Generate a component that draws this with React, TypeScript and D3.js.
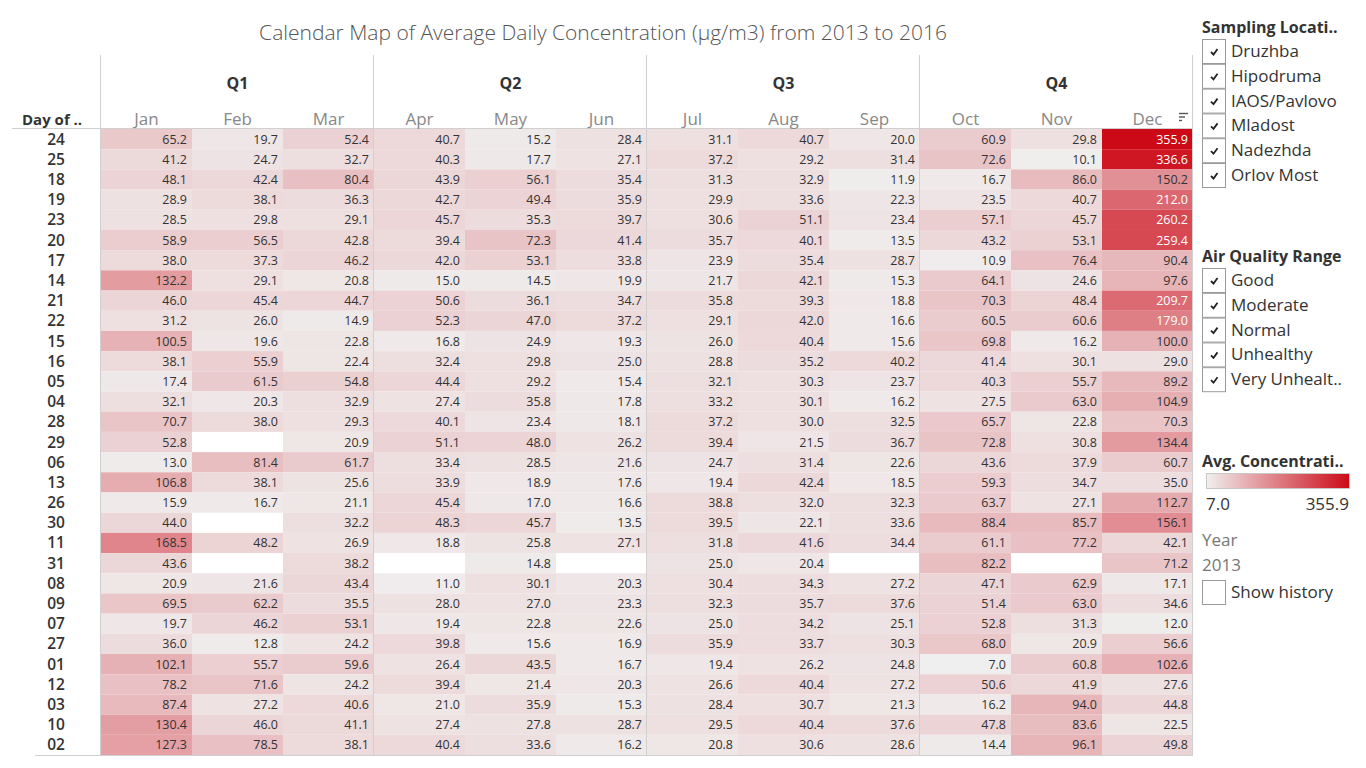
import React from "react";
import * as d3 from "d3";

const days = ["24","25","18","19","23","20","17","14","21","22","15","16","05","04","28","29","06","13","26","30","11","31","08","09","07","27","01","12","03","10","02"];
const months = ["Jan","Feb","Mar","Apr","May","Jun","Jul","Aug","Sep","Oct","Nov","Dec"];
const quarters = ["Q1","Q2","Q3","Q4"];
const N = null;
const values: (number | null)[][] = [
  [65.2, 19.7, 52.4, 40.7, 15.2, 28.4, 31.1, 40.7, 20.0, 60.9, 29.8, 355.9],
  [41.2, 24.7, 32.7, 40.3, 17.7, 27.1, 37.2, 29.2, 31.4, 72.6, 10.1, 336.6],
  [48.1, 42.4, 80.4, 43.9, 56.1, 35.4, 31.3, 32.9, 11.9, 16.7, 86.0, 150.2],
  [28.9, 38.1, 36.3, 42.7, 49.4, 35.9, 29.9, 33.6, 22.3, 23.5, 40.7, 212.0],
  [28.5, 29.8, 29.1, 45.7, 35.3, 39.7, 30.6, 51.1, 23.4, 57.1, 45.7, 260.2],
  [58.9, 56.5, 42.8, 39.4, 72.3, 41.4, 35.7, 40.1, 13.5, 43.2, 53.1, 259.4],
  [38.0, 37.3, 46.2, 42.0, 53.1, 33.8, 23.9, 35.4, 28.7, 10.9, 76.4, 90.4],
  [132.2, 29.1, 20.8, 15.0, 14.5, 19.9, 21.7, 42.1, 15.3, 64.1, 24.6, 97.6],
  [46.0, 45.4, 44.7, 50.6, 36.1, 34.7, 35.8, 39.3, 18.8, 70.3, 48.4, 209.7],
  [31.2, 26.0, 14.9, 52.3, 47.0, 37.2, 29.1, 42.0, 16.6, 60.5, 60.6, 179.0],
  [100.5, 19.6, 22.8, 16.8, 24.9, 19.3, 26.0, 40.4, 15.6, 69.8, 16.2, 100.0],
  [38.1, 55.9, 22.4, 32.4, 29.8, 25.0, 28.8, 35.2, 40.2, 41.4, 30.1, 29.0],
  [17.4, 61.5, 54.8, 44.4, 29.2, 15.4, 32.1, 30.3, 23.7, 40.3, 55.7, 89.2],
  [32.1, 20.3, 32.9, 27.4, 35.8, 17.8, 33.2, 30.1, 16.2, 27.5, 63.0, 104.9],
  [70.7, 38.0, 29.3, 40.1, 23.4, 18.1, 37.2, 30.0, 32.5, 65.7, 22.8, 70.3],
  [52.8, N, 20.9, 51.1, 48.0, 26.2, 39.4, 21.5, 36.7, 72.8, 30.8, 134.4],
  [13.0, 81.4, 61.7, 33.4, 28.5, 21.6, 24.7, 31.4, 22.6, 43.6, 37.9, 60.7],
  [106.8, 38.1, 25.6, 33.9, 18.9, 17.6, 19.4, 42.4, 18.5, 59.3, 34.7, 35.0],
  [15.9, 16.7, 21.1, 45.4, 17.0, 16.6, 38.8, 32.0, 32.3, 63.7, 27.1, 112.7],
  [44.0, N, 32.2, 48.3, 45.7, 13.5, 39.5, 22.1, 33.6, 88.4, 85.7, 156.1],
  [168.5, 48.2, 26.9, 18.8, 25.8, 27.1, 31.8, 41.6, 34.4, 61.1, 77.2, 42.1],
  [43.6, N, 38.2, N, 14.8, N, 25.0, 20.4, N, 82.2, N, 71.2],
  [20.9, 21.6, 43.4, 11.0, 30.1, 20.3, 30.4, 34.3, 27.2, 47.1, 62.9, 17.1],
  [69.5, 62.2, 35.5, 28.0, 27.0, 23.3, 32.3, 35.7, 37.6, 51.4, 63.0, 34.6],
  [19.7, 46.2, 53.1, 19.4, 22.8, 22.6, 25.0, 34.2, 25.1, 52.8, 31.3, 12.0],
  [36.0, 12.8, 24.2, 39.8, 15.6, 16.9, 35.9, 33.7, 30.3, 68.0, 20.9, 56.6],
  [102.1, 55.7, 59.6, 26.4, 43.5, 16.7, 19.4, 26.2, 24.8, 7.0, 60.8, 102.6],
  [78.2, 71.6, 24.2, 39.4, 21.4, 20.3, 26.6, 40.4, 27.2, 50.6, 41.9, 27.6],
  [87.4, 27.2, 40.6, 21.0, 35.9, 15.3, 28.4, 30.7, 21.3, 16.2, 94.0, 44.8],
  [130.4, 46.0, 41.1, 27.4, 27.8, 28.7, 29.5, 40.4, 37.6, 47.8, 83.6, 22.5],
  [127.3, 78.5, 38.1, 40.4, 33.6, 16.2, 20.8, 30.6, 28.6, 14.4, 96.1, 49.8],
];
const locations = ["Druzhba","Hipodruma","IAOS/Pavlovo","Mladost","Nadezhda","Orlov Most"];
const ranges = ["Good","Moderate","Normal","Unhealthy","Very Unhealt.."];
const colorMin = 7.0;
const colorMax = 355.9;

const FONT = "'Open Sans', 'Noto Sans', sans-serif";

function CheckItem({ x, y, label, checked = true }: { x: number; y: number; label: string; checked?: boolean }) {
  return (
    <g transform={`translate(${x},${y})`}>
      <rect x={0.5} y={0.5} width={23} height={24} fill="#fff" stroke="#9a9a9a" strokeWidth={1} />
      {checked && <path d="M9,13 L11.5,15.5 L15.5,10" fill="none" stroke="#222" strokeWidth={1.8} />}
      <text x={29} y={18} fontSize={17} fill="#333" fontFamily={FONT}>{label}</text>
    </g>
  );
}

export default function App() {
  const x = d3.scaleBand<string>().domain(months).range([101, 1193]);
  const y = d3.scaleBand<string>().domain(days).range([129, 755]);
  const color = d3.scaleLinear<string>().domain([colorMin, colorMax]).range(["#f0efef", "#cc0a17"]).interpolate(d3.interpolateRgb);
  const qx = quarters.map((_, i) => x(months[i * 3])!);
  const qLines = [...qx, 1193];
  const gradStops = d3.range(0, 1.01, 0.1);

  return (
    <svg width={1366} height={768} style={{ position: "absolute", left: 0, top: 0, background: "#fff" }} fontFamily={FONT}>
      <defs>
        <linearGradient id="lg" x1="0" x2="1" y1="0" y2="0">
          {gradStops.map((t) => (
            <stop key={t} offset={t} stopColor={color(colorMin + t * (colorMax - colorMin))} />
          ))}
        </linearGradient>
      </defs>
      <text x={603} y={40} textAnchor="middle" fontSize={21} fill="#555" fontWeight={300}>
        Calendar Map of Average Daily Concentration (µg/m3)  from 2013 to 2016
      </text>

      {/* cells */}
      {values.map((row, ri) =>
        row.map((v, ci) =>
          v == null ? null : (
            <g key={`${ri}-${ci}`}>
              <rect x={x(months[ci])} y={y(days[ri])} width={x.bandwidth()} height={y.bandwidth()} fill={color(v)} />
              <text
                x={x(months[ci])! + x.bandwidth() - 5}
                y={y(days[ri])! + y.bandwidth() / 2 + 4.5}
                textAnchor="end"
                fontSize={12.5}
                fill={v > 170 ? "#fff" : "#333"}
              >
                {v.toFixed(1)}
              </text>
            </g>
          )
        )
      )}

      {/* grid lines */}
      {qLines.map((lx, i) => (
        <line key={i} x1={lx - 0.5} x2={lx - 0.5} y1={55} y2={756} stroke="#d0d0d0" strokeWidth={1} />
      ))}
      <line x1={12} x2={1193} y1={128.5} y2={128.5} stroke="#d0d0d0" />
      <line x1={35} x2={1193} y1={755.5} y2={755.5} stroke="#d0d0d0" />

      {/* headers */}
      {quarters.map((q, i) => (
        <text key={q} x={(qLines[i] + qLines[i + 1]) / 2} y={89} textAnchor="middle" fontSize={16} fontWeight={700} fill="#333">
          {q}
        </text>
      ))}
      {months.map((m) => (
        <text key={m} x={x(m)! + x.bandwidth() / 2} y={125} textAnchor="middle" fontSize={17} fill="#888">
          {m}
        </text>
      ))}
      <text x={22} y={125} fontSize={15} fontWeight={700} fill="#333">Day of ..</text>
      {/* sort icon */}
      <g transform="translate(1179,113)" stroke="#555" strokeWidth={1.4}>
        <line x1={0} x2={9} y1={0.5} y2={0.5} />
        <line x1={0} x2={6} y1={4} y2={4} />
        <line x1={0} x2={3} y1={7.5} y2={7.5} />
      </g>
      {days.map((d) => (
        <text key={d} x={56} y={y(d)! + y.bandwidth() / 2 + 5.5} textAnchor="middle" fontSize={15.5} fontWeight={600} fill="#333">
          {d}
        </text>
      ))}

      {/* legends */}
      <text x={1202} y={33} fontSize={16} fontWeight={700} fill="#333">Sampling Locati..</text>
      {locations.map((l, i) => (
        <CheckItem key={l} x={1202} y={39 + i * 24.8} label={l} />
      ))}
      <text x={1202} y={262} fontSize={16} fontWeight={700} fill="#333">Air Quality Range</text>
      {ranges.map((l, i) => (
        <CheckItem key={l} x={1202} y={268 + i * 24.8} label={l} />
      ))}
      <text x={1202} y={467} fontSize={16} fontWeight={700} fill="#333">Avg. Concentrati..</text>
      <rect x={1206.5} y={473.5} width={143} height={15} fill="url(#lg)" stroke="#c8c8c8" />
      <text x={1206} y={510} fontSize={17} fill="#333">{colorMin.toFixed(1)}</text>
      <text x={1349} y={510} textAnchor="end" fontSize={17} fill="#333">{colorMax.toFixed(1)}</text>
      <text x={1202} y={546} fontSize={17} fill="#777">Year</text>
      <text x={1202} y={571} fontSize={17} fill="#777">2013</text>
      <CheckItem x={1202} y={580} label="Show history" checked={false} />
    </svg>
  );
}
